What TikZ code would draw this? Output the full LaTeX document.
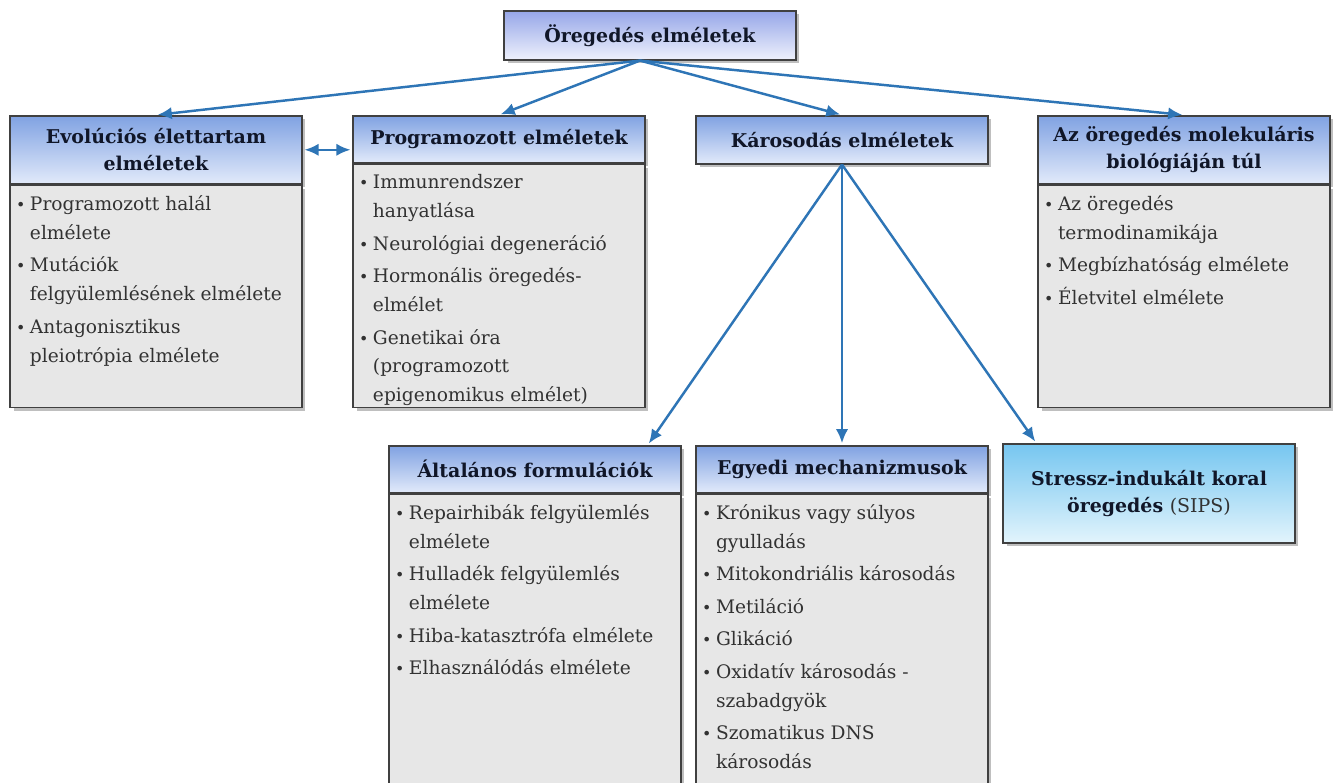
\documentclass[tikz,border=0pt]{standalone}
\usepackage{fontspec}
\setmainfont{DejaVu Serif}
\usetikzlibrary{arrows.meta,shadows}

\definecolor{vonal}{RGB}{64,64,64}
\definecolor{fejfent}{RGB}{128,162,226}
\definecolor{fejlent}{RGB}{226,234,250}
\definecolor{osszfent}{RGB}{150,166,232}
\definecolor{osszlent}{RGB}{238,241,252}
\definecolor{cianfent}{RGB}{118,198,240}
\definecolor{cianlent}{RGB}{226,244,252}
\definecolor{szurke}{RGB}{231,231,231}
\definecolor{szoveg}{RGB}{50,50,50}
\definecolor{fejszoveg}{RGB}{16,22,40}
\definecolor{kek}{RGB}{46,117,182}

\newcommand{\pont}[1]{\par\hangindent=0.75em\hangafter=1\noindent\makebox[0.75em][l]{\small\textbullet}#1\par\vspace{2pt}}
\newcommand{\lista}[2]{\begin{minipage}[t][#1][t]{5.6cm}\rightskip=0pt plus 1fil #2\end{minipage}}

\begin{document}
\begin{tikzpicture}[x=0.02cm,y=-0.02cm,
    fej/.style={draw=vonal,line width=0.9pt,top color=fejfent,bottom color=fejlent,
      minimum width=5.84cm,inner sep=2pt,align=center,anchor=north,text=fejszoveg,
      font=\fontsize{10.8}{15.3}\selectfont\bfseries,
      drop shadow={shadow xshift=2pt,shadow yshift=-2pt,opacity=.5}},
    test/.style={draw=vonal,line width=0.9pt,fill=szurke,anchor=north,
      inner xsep=0.12cm,inner ysep=0.2cm,text=szoveg,
      font=\fontsize{10.6}{16.5}\selectfont,
      drop shadow={shadow xshift=2pt,shadow yshift=-2pt,opacity=.5}},
    nyil/.style={draw=kek,line width=1.4pt,-{Latex[length=8pt,width=7pt]},shorten >=1pt}]
  \useasboundingbox (0,0) rectangle (1336,782);
  \clip (0,0) rectangle (1336,782);
  \fill[white] (0,0) rectangle (1336,782);

  \node[fej,minimum height=0.98cm,top color=osszfent,bottom color=osszlent] (ossz) at (650,10) {Öregedés elméletek};

  \node[fej,minimum height=1.36cm] (evofej) at (156,115) {Evolúciós élettartam\\elméletek};
  \node[test] (evotest) at (evofej.south) {\lista{4.04cm}{
      \pont{Programozott halál\\elmélete}
      \pont{Mutációk\\felgyülemlésének elmélete}
      \pont{Antagonisztikus\\pleiotrópia elmélete}}};

  \node[fej,minimum height=0.94cm] (progfej) at (499,115) {Programozott elméletek};
  \node[test] (progtest) at (progfej.south) {\lista{4.46cm}{
      \pont{Immunrendszer\\hanyatlása}
      \pont{Neurológiai degeneráció}
      \pont{Hormonális öregedés-\\elmélet}
      \pont{Genetikai óra\\(programozott\\epigenomikus elmélet)}}};

  \node[fej,minimum height=0.96cm] (karfej) at (842,115) {Károsodás elméletek};

  \node[fej,minimum height=1.36cm] (molfej) at (1184,115) {Az öregedés molekuláris\\biológiáján túl};
  \node[test] (moltest) at (molfej.south) {\lista{4.04cm}{
      \pont{Az öregedés\\termodinamikája}
      \pont{Megbízhatóság elmélete}
      \pont{Életvitel elmélete}}};

  \node[fej,minimum height=0.94cm] (altfej) at (535,445) {Általános formulációk};
  \node[test] (alttest) at (altfej.south) {\lista{5.76cm}{
      \pont{Repairhibák felgyülemlés\\elmélete}
      \pont{Hulladék felgyülemlés\\elmélete}
      \pont{Hiba-katasztrófa elmélete}
      \pont{Elhasználódás elmélete}}};

  \node[fej,minimum height=0.94cm] (egyfej) at (842,445) {Egyedi mechanizmusok};
  \node[test] (egytest) at (egyfej.south) {\lista{5.76cm}{
      \pont{Krónikus vagy súlyos\\gyulladás}
      \pont{Mitokondriális károsodás}
      \pont{Metiláció}
      \pont{Glikáció}
      \pont{Oxidatív károsodás -\\szabadgyök}
      \pont{Szomatikus DNS\\károsodás}}};

  \node[fej,minimum height=1.98cm,top color=cianfent,bottom color=cianlent] (stressz) at (1149,443)
    {Stressz-indukált koral\\öregedés {\mdseries\color{szoveg}(SIPS)}};

  \foreach \n in {evofej,progfej,karfej,molfej}
    \draw[nyil] ([xshift=-0.2cm]ossz.south) -- (\n.north);
  \draw[nyil,{Latex[length=8pt,width=7pt]}-{Latex[length=8pt,width=7pt]},shorten <=1pt]
    (evofej.east) -- (evofej.east -| progfej.west);
  \draw[nyil] (karfej.south) -- ([xshift=-0.68cm]altfej.north east);
  \draw[nyil] (karfej.south) -- (egyfej.north);
  \draw[nyil] (karfej.south) -- ([xshift=0.68cm]stressz.north west);
\end{tikzpicture}
\end{document}
